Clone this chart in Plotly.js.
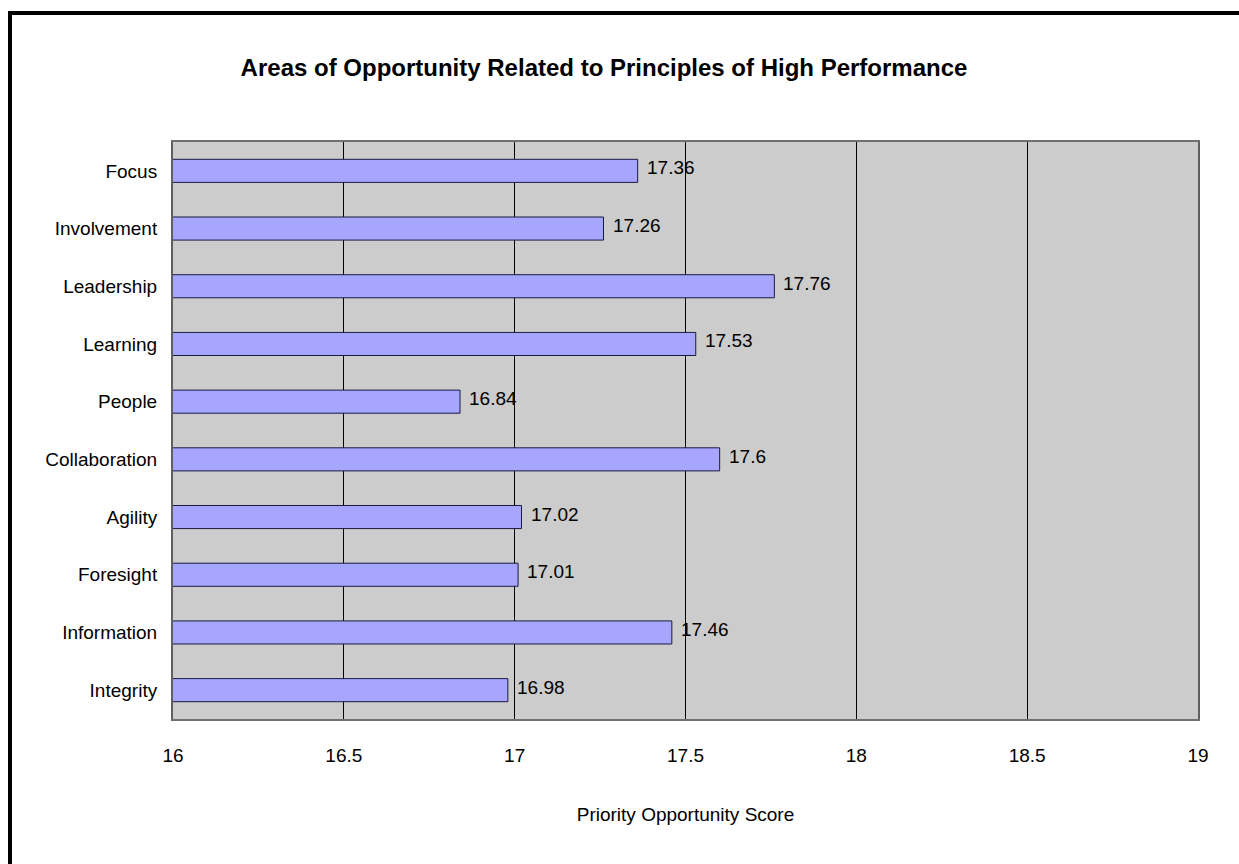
<!DOCTYPE html>
<html>
<head>
<meta charset="utf-8">
<script src="https://cdn.plot.ly/plotly-3.0.1.min.js"></script>
<style>
  html, body { margin: 0; padding: 0; background: #ffffff; overflow: hidden; }
  #frame { position: absolute; left: 8px; top: 11px; width: 1240px; height: 860px;
           border-left: 4px solid #000; border-top: 4px solid #000; box-sizing: border-box; }
  #chart { position: absolute; left: 0; top: 0; width: 1239px; height: 864px; }
</style>
</head>
<body>
<div id="frame"></div>
<div id="chart"></div>
<script>
const categories = ["Focus", "Involvement", "Leadership", "Learning", "People",
                    "Collaboration", "Agility", "Foresight", "Information", "Integrity"];
const scores = [17.36, 17.26, 17.76, 17.53, 16.84, 17.6, 17.02, 17.01, 17.46, 16.98];
const tickValues = [16, 16.5, 17, 17.5, 18, 18.5, 19];
const tickLabels = ["16", "16.5", "17", "17.5", "18", "18.5", "19"];

const font = "Liberation Sans, Arial, sans-serif";

const trace = {
  type: "bar",
  orientation: "h",
  x: scores,
  y: categories,
  width: 0.4,
  marker: { color: "#A6A6FF", line: { color: "#1a1a40", width: 1 } },
  hoverinfo: "x+y"
};

const annotations = categories.map((c, i) => ({
  x: scores[i], y: c, xref: "x", yref: "y",
  text: String(scores[i]), showarrow: false,
  xanchor: "left", yanchor: "middle", xshift: 7, yshift: 3,
  font: { family: font, size: 19, color: "#000" }
}));

const layout = {
  width: 1239, height: 864,
  margin: { l: 173, r: 41, t: 142, b: 145 },
  paper_bgcolor: "rgba(0,0,0,0)",
  plot_bgcolor: "#CCCCCC",
  showlegend: false,
  title: {
    text: "<b>Areas of Opportunity Related to Principles of High Performance</b>",
    font: { family: font, size: 24, color: "#000" },
    xref: "container", x: 0.4875, xanchor: "center",
    yref: "container", y: 1 - 68 / 864, yanchor: "middle"
  },
  xaxis: {
    range: [16, 19],
    tickvals: tickValues, ticktext: tickLabels,
    showgrid: true, gridcolor: "#000", gridwidth: 1,
    zeroline: false,
    showline: true, mirror: true, linecolor: "#707070", linewidth: 2,
    ticks: "outside", ticklen: 18, tickcolor: "rgba(0,0,0,0)",
    tickfont: { family: font, size: 19, color: "#000" },
    title: { text: "Priority Opportunity Score", font: { family: font, size: 19, color: "#000" }, standoff: 43 },
    fixedrange: true
  },
  yaxis: {
    type: "category",
    autorange: "reversed",
    showgrid: false, zeroline: false,
    showline: true, mirror: true, linecolor: "#606060", linewidth: 2,
    ticks: "outside", ticklen: 10, tickcolor: "rgba(0,0,0,0)",
    tickfont: { family: font, size: 19, color: "#000" },
    fixedrange: true
  },
  annotations: annotations
};

Plotly.newPlot("chart", [trace], layout, { displayModeBar: false, staticPlot: true });
</script>
</body>
</html>
